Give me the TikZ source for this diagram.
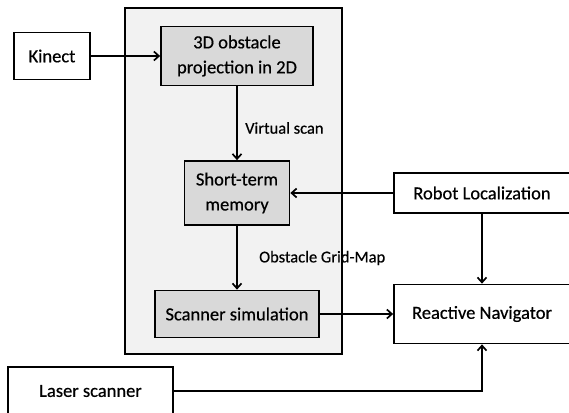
\documentclass[tikz,border=0pt]{standalone}
\usepackage{fontspec}
\setmainfont{Carlito}[FakeBold=0.5]
\usetikzlibrary{arrows.meta}
\definecolor{contfill}{HTML}{F2F2F2}
\definecolor{boxfill}{HTML}{D9D9D9}
\begin{document}
\begin{tikzpicture}[x=1pt,y=-1pt,
  every node/.style={font=\fontsize{18.5}{25}\selectfont},
  blk/.style={draw=black,line width=1.7pt,inner sep=0pt,align=center},
  wbox/.style={blk,fill=white},
  gbox/.style={blk,fill=boxfill},
  conn/.style={line width=1.7pt,-{Straight Barb[length=5pt,width=9pt,line width=1.7pt]}},
  lbl/.style={anchor=west,inner sep=0pt,font=\fontsize{16.5}{20}\selectfont}]
\useasboundingbox (0,0) rectangle (569,412);
\clip (0,0) rectangle (569,412);
\node[blk,fill=contfill,minimum width=217pt,minimum height=346pt] (cont) at (233.5,181) {};
\node[wbox,minimum width=76pt,minimum height=47pt] (kinect) at (52,56) {Kinect};
\node[gbox,minimum width=152pt,minimum height=59pt] (proj) at (237,56) {3D obstacle\\projection in 2D};
\node[gbox,minimum width=105pt,minimum height=64pt] (stm) at (237,193) {Short-term\\memory};
\node[gbox,minimum width=164pt,minimum height=47pt] (sim) at (237,314) {Scanner simulation};
\node[wbox,minimum width=176pt,minimum height=40pt] (robot) at (482,193) {Robot Localization};
\node[wbox,minimum width=176pt,minimum height=59pt] (nav) at (482,314) {Reactive Navigator};
\node[wbox,minimum width=165pt,minimum height=48pt] (laser) at (90.5,391) {Laser scanner};
\node[lbl] (vs) at (245,128) {Virtual scan};
\node[lbl] (ogm) at (259,258) {Obstacle Grid-Map};
\draw[conn] (kinect.east) -- (proj.west);
\draw[conn] (proj.south) -- (stm.north);
\draw[conn] (robot.west) -- (stm.east);
\draw[conn] (stm.south) -- (sim.north);
\draw[conn] (sim.east) -- (nav.west);
\draw[conn] (robot.south) -- (nav.north);
\draw[conn] (laser.east) -| (nav.south);
\end{tikzpicture}
\end{document}
